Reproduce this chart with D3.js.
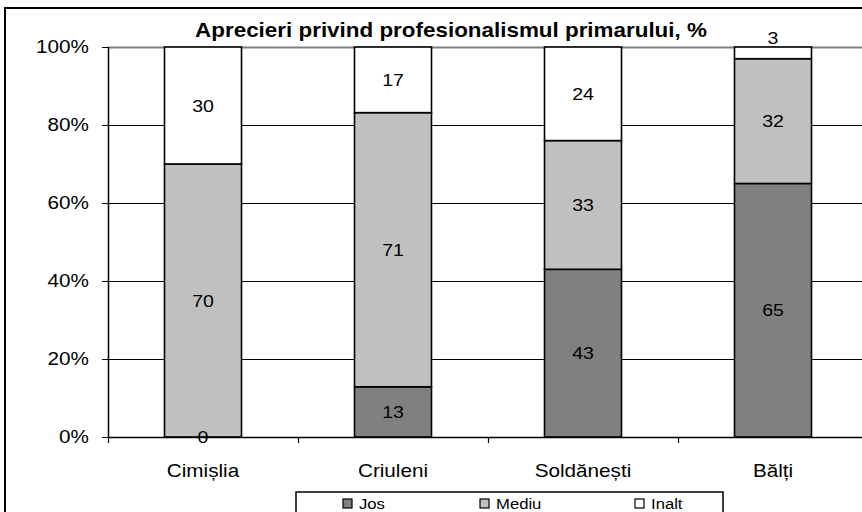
<!DOCTYPE html>
<html>
<head>
<meta charset="utf-8">
<script src="https://cdn.jsdelivr.net/npm/d3@7"></script>
<style>
  body { margin: 0; background: #fff; }
  svg { display: block; font-family: "Liberation Sans", Arial, sans-serif; }
</style>
</head>
<body>
<div id="wrapper"></div>
<script>
const categories = ["Cimișlia", "Criuleni", "Soldănești", "Bălți"]
const seriesNames = ["Jos", "Mediu", "Inalt"]
const jos = [0, 13, 43, 65]
const mediu = [70, 71, 33, 32]
const inalt = [30, 17, 24, 3]
const yTicks = [0, 0.2, 0.4, 0.6, 0.8, 1]
const colors = ["#808080", "#c0c0c0", "#ffffff"]

const rows = categories.map((c, i) => ({ cat: c, Jos: jos[i], Mediu: mediu[i], Inalt: inalt[i] }))

const dimensions = {
  width: 862,
  height: 512,
  margin: { top: 47, right: -6, bottom: 75, left: 108 },
}
dimensions.boundedWidth = dimensions.width - dimensions.margin.left - dimensions.margin.right
dimensions.boundedHeight = dimensions.height - dimensions.margin.top - dimensions.margin.bottom

// text in the picture is a bit wider than tall
const stretch = 1.15
function stretchedText(g, x, y, str) {
  return g.append("text")
    .attr("transform", `translate(${x},${y}) scale(${stretch},1)`)
    .text(str)
}

const svg = d3.select("#wrapper").append("svg")
  .attr("width", dimensions.width)
  .attr("height", dimensions.height)

// outer chart frame
svg.append("rect")
  .attr("x", 5).attr("y", 8)
  .attr("width", 900).attr("height", 600)
  .attr("fill", "none").attr("stroke", "#000").attr("stroke-width", 2)

const bounds = svg.append("g")
  .attr("transform", `translate(${dimensions.margin.left},${dimensions.margin.top})`)

const xScale = d3.scaleBand()
  .domain(categories)
  .range([0, dimensions.boundedWidth])

const yScale = d3.scaleLinear()
  .domain([0, 1])
  .range([dimensions.boundedHeight, 0])

const stack = d3.stack().keys(seriesNames).offset(d3.stackOffsetExpand)
const stacked = stack(rows)

// gridlines
bounds.append("g").selectAll("line")
  .data(yTicks.filter(d => d > 0))
  .join("line")
    .attr("x1", 0).attr("x2", dimensions.boundedWidth)
    .attr("y1", d => Math.round(yScale(d)) + 0.5).attr("y2", d => Math.round(yScale(d)) + 0.5)
    .attr("stroke", d => d == 1 ? "#808080" : "#000")
    .attr("stroke-width", d => d == 1 ? 2 : 1)

// bars
const barWidth = 77
const barX = c => xScale(c) + xScale.bandwidth() / 2 - barWidth / 2

stacked.forEach((s, si) => {
  bounds.append("g").selectAll("rect")
    .data(s)
    .join("rect")
      .attr("x", d => barX(d.data.cat))
      .attr("y", d => yScale(d[1]))
      .attr("width", barWidth)
      .attr("height", d => yScale(d[0]) - yScale(d[1]))
      .attr("fill", colors[si])
      .attr("stroke", "#000")
      .attr("stroke-width", 1.6)
})

// data labels
const labelGroup = bounds.append("g")
  .style("font-size", "17px")
  .attr("fill", "#000")
  .attr("text-anchor", "middle")
stacked.forEach(s => {
  s.forEach(d => {
    const segH = yScale(d[0]) - yScale(d[1])
    let cy = (yScale(d[0]) + yScale(d[1])) / 2
    if (segH > 0 && segH < 14) cy = yScale(d[1]) - 9
    stretchedText(labelGroup, xScale(d.data.cat) + xScale.bandwidth() / 2, cy, d.data[s.key])
      .attr("dy", "0.36em")
  })
})

// y axis
const yAxis = bounds.append("g")
yAxis.append("line")
  .attr("x1", 0.5).attr("x2", 0.5)
  .attr("y1", 0).attr("y2", dimensions.boundedHeight)
  .attr("stroke", "#000").attr("stroke-width", 1.5)
yAxis.selectAll(".tick")
  .data(yTicks)
  .join("line")
    .attr("x1", -6).attr("x2", 0)
    .attr("y1", d => Math.round(yScale(d)) + 0.5).attr("y2", d => Math.round(yScale(d)) + 0.5)
    .attr("stroke", "#000").attr("stroke-width", 1)
const yLabels = yAxis.append("g")
  .style("font-size", "18px")
  .attr("text-anchor", "end")
yTicks.forEach(t => {
  stretchedText(yLabels, -19, yScale(t), d3.format(".0%")(t))
    .attr("dy", "0.36em")
})

// x axis
const xAxis = bounds.append("g").attr("transform", `translate(0,${dimensions.boundedHeight})`)
xAxis.append("line")
  .attr("x1", 0).attr("x2", dimensions.boundedWidth)
  .attr("y1", 0.5).attr("y2", 0.5)
  .attr("stroke", "#000").attr("stroke-width", 1.5)
xAxis.selectAll(".tick")
  .data(categories)
  .join("line")
    .attr("x1", d => Math.round(xScale(d)) + 0.5).attr("x2", d => Math.round(xScale(d)) + 0.5)
    .attr("y1", 0).attr("y2", 6)
    .attr("stroke", "#000").attr("stroke-width", 1.2)
const xLabels = xAxis.append("g")
  .style("font-size", "18px")
  .attr("text-anchor", "middle")
categories.forEach(c => {
  stretchedText(xLabels, xScale(c) + xScale.bandwidth() / 2, 40, c)
})

// title
stretchedText(svg, 451, 37, "Aprecieri privind profesionalismul primarului, %")
  .attr("text-anchor", "middle")
  .style("font-size", "19.5px")
  .style("font-weight", "bold")

// legend
const legendGroup = svg.append("g")
legendGroup.append("rect")
  .attr("x", 296).attr("y", 492)
  .attr("width", 427).attr("height", 40)
  .attr("fill", "#fff").attr("stroke", "#000").attr("stroke-width", 1.5)
const legendX = [343, 480, 635]
seriesNames.forEach((n, i) => {
  legendGroup.append("rect")
    .attr("x", legendX[i]).attr("y", 499)
    .attr("width", 9).attr("height", 9)
    .attr("fill", colors[i]).attr("stroke", "#000").attr("stroke-width", 1.2)
  stretchedText(legendGroup, legendX[i] + 16, 508.5, n)
    .style("font-size", "14.5px")
})
</script>
</body>
</html>
